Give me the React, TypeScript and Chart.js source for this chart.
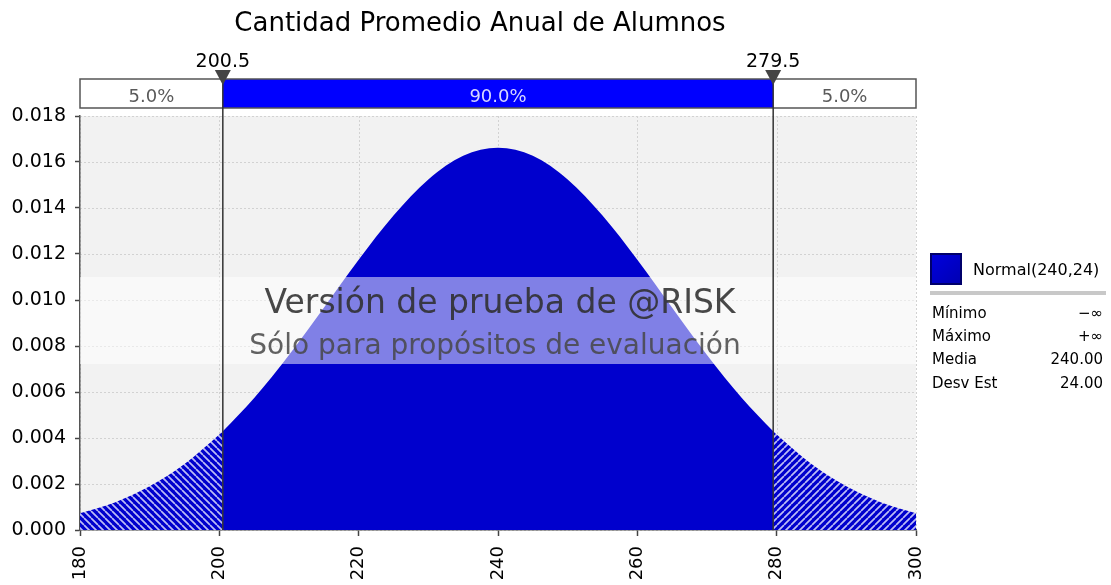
import React, { useEffect, useRef } from "react";
import { Chart, registerables } from "chart.js";
Chart.register(...registerables);

const TITLE = "Cantidad Promedio Anual de Alumnos";
const xValues = [180, 185, 190, 195, 200, 200.5, 205, 210, 215, 220, 225, 230, 235, 240, 245, 250, 255, 260, 265, 270, 275, 279.5, 280, 285, 290, 295, 300];
const densities = [0.00073, 0.0012, 0.0019, 0.00287, 0.00415, 0.00429, 0.00574, 0.00761, 0.00966, 0.01175, 0.01367, 0.01524, 0.01627, 0.01662, 0.01627, 0.01524, 0.01367, 0.01175, 0.00966, 0.00761, 0.00574, 0.00429, 0.00415, 0.00287, 0.0019, 0.0012, 0.00073];
const cutPoints = [200.5, 279.5];
const cutLabels = ["200.5", "279.5"];
const bandPercents = ["5.0%", "90.0%", "5.0%"];
const xTicks = [180, 200, 220, 240, 260, 280, 300];
const yTicks = [0, 0.002, 0.004, 0.006, 0.008, 0.01, 0.012, 0.014, 0.016, 0.018];
const legendLabel = "Normal(240,24)";
const statNames = ["Mínimo", "Máximo", "Media", "Desv Est"];
const statValues = ["−∞", "+∞", "240.00", "24.00"];
const watermark = ["Versión de prueba de @RISK", "Sólo para propósitos de evaluación"];

const FONT = "'DejaVu Sans', Verdana, sans-serif";
const BLUE = "#0000cd";

function makeHatch(ctx: CanvasRenderingContext2D, dir: number) {
  const P = 7;
  const c = document.createElement("canvas");
  c.width = P;
  c.height = P;
  const g = c.getContext("2d")!;
  g.fillStyle = BLUE;
  g.fillRect(0, 0, P, P);
  g.strokeStyle = "rgba(235,235,255,0.8)";
  g.lineWidth = 1.7;
  g.beginPath();
  for (let k = -1; k <= 1; k++) {
    if (dir > 0) {
      g.moveTo(k * P, 0);
      g.lineTo(k * P + P, P);
    } else {
      g.moveTo(k * P, P);
      g.lineTo(k * P + P, 0);
    }
  }
  g.stroke();
  return ctx.createPattern(c, "repeat")!;
}

export default function App() {
  const ref = useRef<HTMLCanvasElement | null>(null);
  useEffect(() => {
    const canvas = ref.current!;
    const ctx = canvas.getContext("2d")!;
    const pts = xValues.map((x, i) => ({ x, y: densities[i] }));
    const left = pts.filter((p) => p.x <= cutPoints[0]);
    const mid = pts.filter((p) => p.x >= cutPoints[0] && p.x <= cutPoints[1]);
    const right = pts.filter((p) => p.x >= cutPoints[1]);

    const common = {
      fill: "origin",
      pointRadius: 0,
      borderWidth: 0,
      cubicInterpolationMode: "monotone",
    };

    const bgPlugin = {
      id: "bg",
      beforeDraw(chart: any) {
        const { ctx: c, chartArea: a, scales } = chart;
        c.save();
        c.fillStyle = "#ffffff";
        c.fillRect(0, 0, chart.width, chart.height);
        c.fillStyle = "#f2f2f2";
        c.fillRect(a.left, a.top, a.right - a.left, a.bottom - a.top);
        c.strokeStyle = "#d2d2d2";
        c.lineWidth = 1;
        c.setLineDash([2, 2]);
        scales.x.ticks.forEach((t: any) => {
          const px = Math.round(scales.x.getPixelForValue(t.value)) + 0.5;
          c.beginPath();
          c.moveTo(px, a.top);
          c.lineTo(px, a.bottom);
          c.stroke();
        });
        scales.y.ticks.forEach((t: any) => {
          const py = Math.round(scales.y.getPixelForValue(t.value)) + 0.5;
          c.beginPath();
          c.moveTo(a.left, py);
          c.lineTo(a.right, py);
          c.stroke();
        });
        c.restore();
      },
    };

    const overlayPlugin = {
      id: "overlay",
      afterDatasetsDraw(chart: any) {
        const { ctx: c, chartArea: a, scales } = chart;
        const xs = scales.x;
        c.save();
        // watermark band
        c.fillStyle = "rgba(255,255,255,0.5)";
        c.fillRect(a.left, a.top + 161, a.right - a.left, 87);
        c.textAlign = "center";
        c.textBaseline = "alphabetic";
        c.fillStyle = "rgba(45,45,45,0.88)";
        c.font = `33px ${FONT}`;
        c.fillText(watermark[0], 500, 313);
        c.fillStyle = "rgba(70,70,70,0.85)";
        c.font = `28px ${FONT}`;
        c.fillText(watermark[1], 495, 354);

        // top percentile bar
        const barTop = 79;
        const barBot = 108;
        const cx = cutPoints.map((v) => xs.getPixelForValue(v));
        const edges = [a.left, cx[0], cx[1], a.right];
        const fills = ["#ffffff", "#0000ff", "#ffffff"];
        const txtCol = ["#5a5a5a", "#d6d6ff", "#5a5a5a"];
        for (let i = 0; i < 3; i++) {
          c.fillStyle = fills[i];
          c.fillRect(edges[i], barTop, edges[i + 1] - edges[i], barBot - barTop);
        }
        c.strokeStyle = "#555555";
        c.lineWidth = 1.5;
        c.strokeRect(a.left, barTop, a.right - a.left, barBot - barTop);
        c.font = `18px ${FONT}`;
        for (let i = 0; i < 3; i++) {
          c.fillStyle = txtCol[i];
          c.fillText(bandPercents[i], (edges[i] + edges[i + 1]) / 2, 102);
        }
        // markers
        cx.forEach((px, i) => {
          c.strokeStyle = "#333333";
          c.lineWidth = 1.5;
          c.beginPath();
          c.moveTo(px, barTop);
          c.lineTo(px, a.bottom);
          c.stroke();
          c.fillStyle = "#444444";
          c.beginPath();
          c.moveTo(px - 8, 70);
          c.lineTo(px + 8, 70);
          c.lineTo(px, 85);
          c.closePath();
          c.fill();
          c.fillStyle = "#000000";
          c.font = `19px ${FONT}`;
          c.fillText(cutLabels[i], px, 67);
        });
        c.restore();
      },
      afterDraw(chart: any) {
        const c = chart.ctx;
        c.save();
        c.fillStyle = "#000000";
        c.textAlign = "center";
        c.textBaseline = "alphabetic";
        c.font = `26px ${FONT}`;
        c.fillText(TITLE, 480, 31);
        // legend
        const grad = c.createLinearGradient(930, 253, 962, 285);
        grad.addColorStop(0, "#0000e0");
        grad.addColorStop(1, "#0000b0");
        c.fillStyle = grad;
        c.fillRect(930, 253, 32, 32);
        c.strokeStyle = "#00006a";
        c.lineWidth = 2;
        c.strokeRect(931, 254, 30, 30);
        c.fillStyle = "#000000";
        c.textAlign = "left";
        c.font = `16px ${FONT}`;
        c.fillText(legendLabel, 973, 275);
        c.fillStyle = "#c8c8c8";
        c.fillRect(930, 291, 176, 4);
        c.font = `15px ${FONT}`;
        statNames.forEach((n, i) => {
          const y = 318 + i * 23.2;
          c.fillStyle = "#000000";
          c.textAlign = "left";
          c.fillText(n, 932, y);
          c.textAlign = "right";
          c.fillText(statValues[i], 1103, y);
        });
        c.restore();
      },
    };

    const chart = new Chart(ctx, {
      type: "line",
      data: {
        datasets: [
          { ...common, data: left, backgroundColor: makeHatch(ctx, 1), borderColor: BLUE } as any,
          { ...common, data: mid, backgroundColor: BLUE, borderColor: BLUE } as any,
          { ...common, data: right, backgroundColor: makeHatch(ctx, -1), borderColor: BLUE } as any,
        ],
      },
      options: {
        animation: false,
        responsive: false,
        layout: { padding: { top: 116, right: 195, left: 0, bottom: 0 } },
        plugins: { legend: { display: false }, tooltip: { enabled: false }, title: { display: false } },
        scales: {
          x: {
            type: "linear",
            min: 180,
            max: 300,
            afterBuildTicks: (s: any) => {
              s.ticks = xTicks.map((v) => ({ value: v }));
            },
            afterFit: (s: any) => {
              s.height = 55;
            },
            ticks: {
              autoSkip: false,
              minRotation: 90,
              maxRotation: 90,
              padding: 10,
              color: "#000000",
              font: { family: FONT, size: 18 },
              callback: (v: any) => String(v),
            },
            grid: { drawOnChartArea: false, drawTicks: true, tickLength: 6, tickColor: "#444444", tickWidth: 1.5 },
            border: { display: true, color: "#555555", width: 1.5 },
          },
          y: {
            type: "linear",
            min: 0,
            max: 0.018,
            afterBuildTicks: (s: any) => {
              s.ticks = yTicks.map((v) => ({ value: v }));
            },
            afterFit: (s: any) => {
              s.width = 80;
            },
            ticks: {
              padding: 9,
              color: "#000000",
              font: { family: FONT, size: 19 },
              callback: (v: any) => Number(v).toFixed(3),
            },
            grid: { drawOnChartArea: false, drawTicks: true, tickLength: 5, tickColor: "#444444", tickWidth: 1.5 },
            border: { display: true, color: "#555555", width: 1.5 },
          },
        },
      },
      plugins: [bgPlugin, overlayPlugin],
    } as any);
    return () => chart.destroy();
  }, []);

  return (
    <div style={{ position: "fixed", left: 0, top: 0, width: 1111, height: 585, background: "#fff" }}>
      <canvas ref={ref} width={1111} height={585} style={{ display: "block" }} />
    </div>
  );
}
